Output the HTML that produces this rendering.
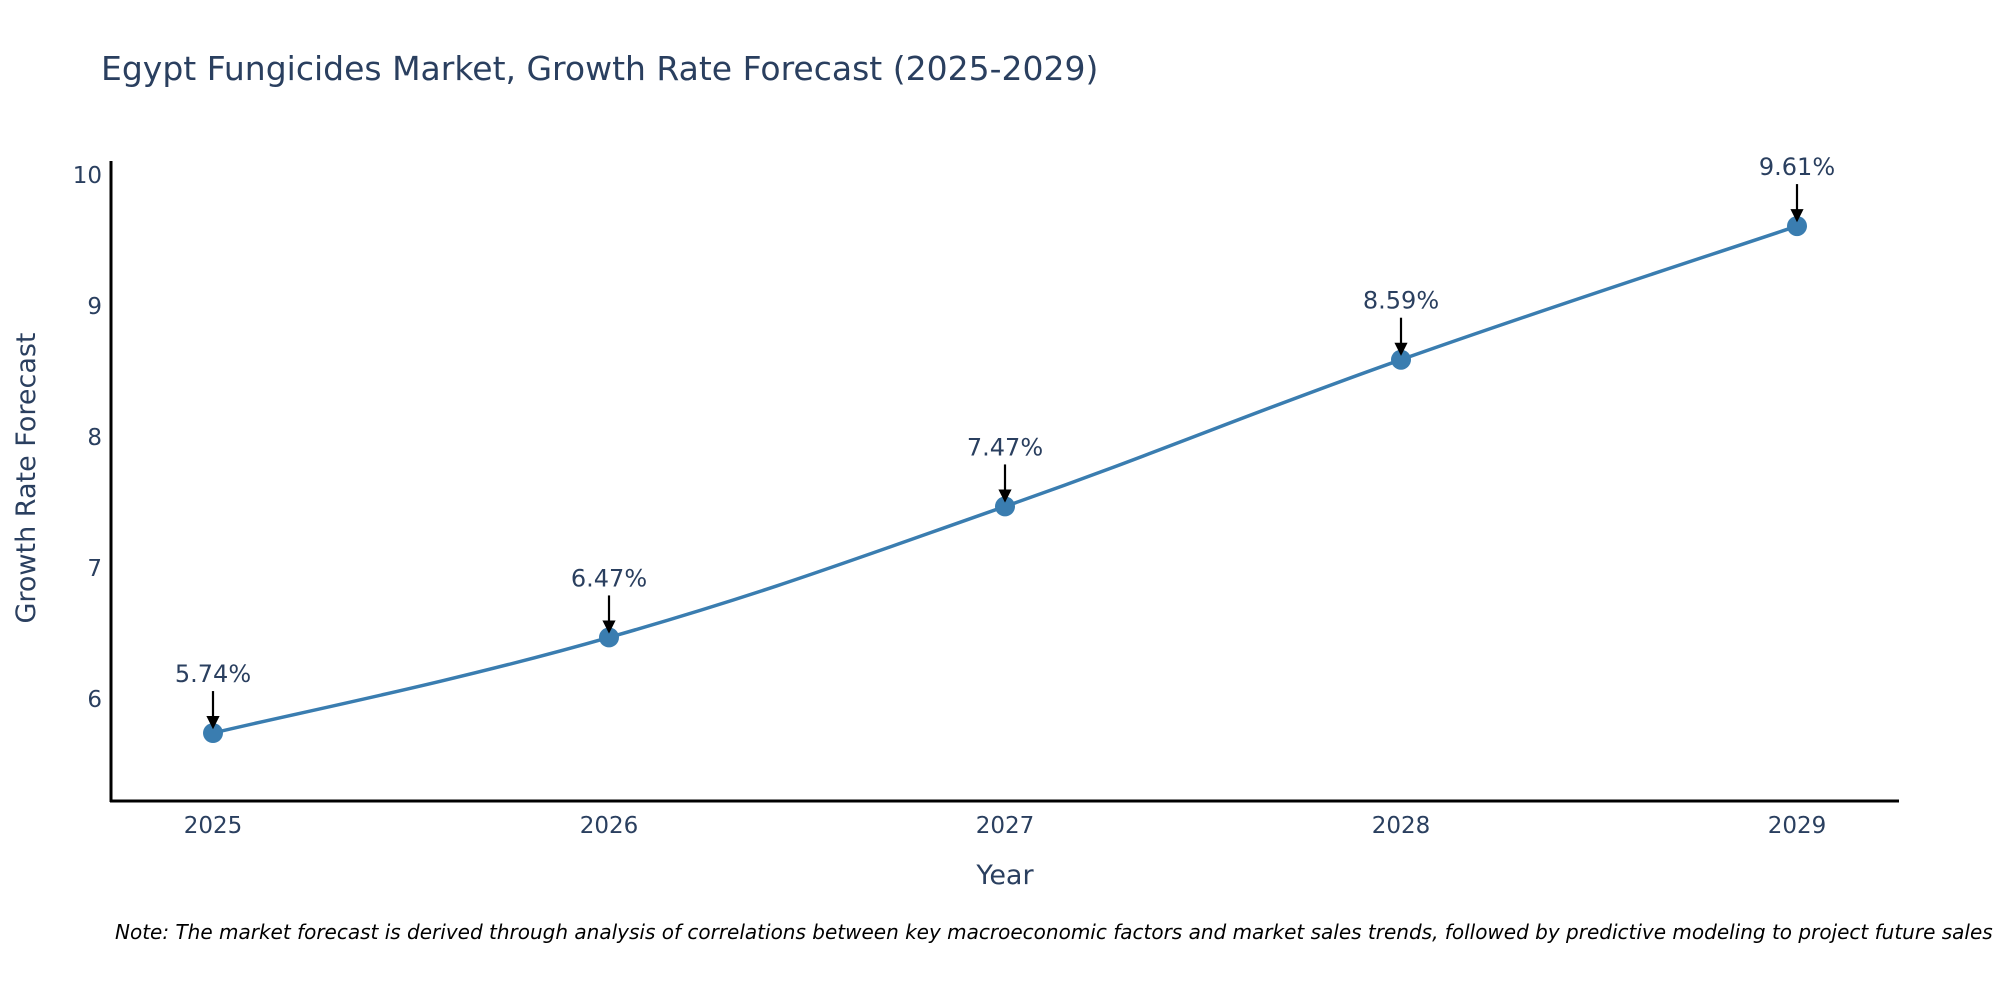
<!DOCTYPE html>
<html><head><meta charset="utf-8"><style>
body{margin:0;background:#fff;}
svg{display:block;font-family:"DejaVu Sans","Liberation Sans",sans-serif;}
</style></head><body>
<svg id="chart" width="2000" height="1000" viewBox="0 0 2000 1000">
<text x="101" y="80" font-size="33" fill="#2a3f5f">Egypt Fungicides Market, Growth Rate Forecast (2025-2029)</text>
<g id="yticks"></g><g id="xticks"></g>
<g id="series"></g><g id="annos"></g>
<line x1="111" y1="161" x2="111" y2="802" stroke="#000" stroke-width="3"/>
<line x1="110" y1="801" x2="1899" y2="801" stroke="#000" stroke-width="3"/>
<text x="1005" y="884" font-size="27" fill="#2a3f5f" text-anchor="middle">Year</text>
<text transform="translate(35,478) rotate(-90)" font-size="27" fill="#2a3f5f" text-anchor="middle">Growth Rate Forecast</text>
<text x="115" y="939" font-size="20" font-style="italic" fill="#000">Note: The market forecast is derived through analysis of correlations between key macroeconomic factors and market sales trends, followed by predictive modeling to project future sales</text>
<defs><marker id="ah" markerWidth="6" markerHeight="6" refX="5" refY="3" orient="auto" markerUnits="strokeWidth"><path d="M0,0 L6,3 L0,6 z" fill="#000"/></marker></defs>
</svg>
<script>
const years=[2025,2026,2027,2028,2029];
const values=[5.74,6.47,7.47,8.59,9.61];
const labels=["5.74%","6.47%","7.47%","8.59%","9.61%"];
const yTicks=[6,7,8,9,10];
const NS="http://www.w3.org/2000/svg";
function X(v){return 213+(v-2025)*396;}
function Y(v){return 699-(v-6)*131;}
function mk(tag,attrs,parent,txt){const e=document.createElementNS(NS,tag);for(const k in attrs)e.setAttribute(k,attrs[k]);if(txt!==undefined)e.textContent=txt;document.getElementById(parent).appendChild(e);return e;}
yTicks.forEach(t=>{
  const e=mk('text',{x:102,y:Y(t)+8,'font-size':23,fill:'#2a3f5f','text-anchor':'end'},'yticks',String(t));
  
  
});
years.forEach(yr=>{
  const e=mk('text',{x:X(yr),y:833,'font-size':23,fill:'#2a3f5f','text-anchor':'middle'},'xticks',String(yr));
  
  
});
const pts=years.map((yr,i)=>[X(yr),Y(values[i])]);
let d='M'+pts[0][0]+','+pts[0][1];
for(let i=0;i<pts.length-1;i++){
  const p0=pts[Math.max(0,i-1)],p1=pts[i],p2=pts[i+1],p3=pts[Math.min(pts.length-1,i+2)];
  const t=0.2;
  const c1=[p1[0]+(p2[0]-p0[0])*t,p1[1]+(p2[1]-p0[1])*t];
  const c2=[p2[0]-(p3[0]-p1[0])*t,p2[1]-(p3[1]-p1[1])*t];
  d+=' C'+c1+' '+c2+' '+p2;
}
const line=mk('path',{d:d,fill:'none',stroke:'#3a7db0','stroke-width':3.5},'series');


pts.forEach((p,i)=>{
  const c=mk('circle',{cx:p[0],cy:p[1],r:10,fill:'#3a7db0'},'series');
  
  
  const a=mk('line',{x1:p[0],y1:p[1]-42,x2:p[0],y2:p[1]-6,stroke:'#000','stroke-width':2.2,'marker-end':'url(#ah)'},'annos');
  
  
  const tx=mk('text',{x:p[0],y:p[1]-51,'font-size':24,fill:'#2a3f5f','text-anchor':'middle'},'annos',labels[i]);
  
  
});
</script>
</body></html>
